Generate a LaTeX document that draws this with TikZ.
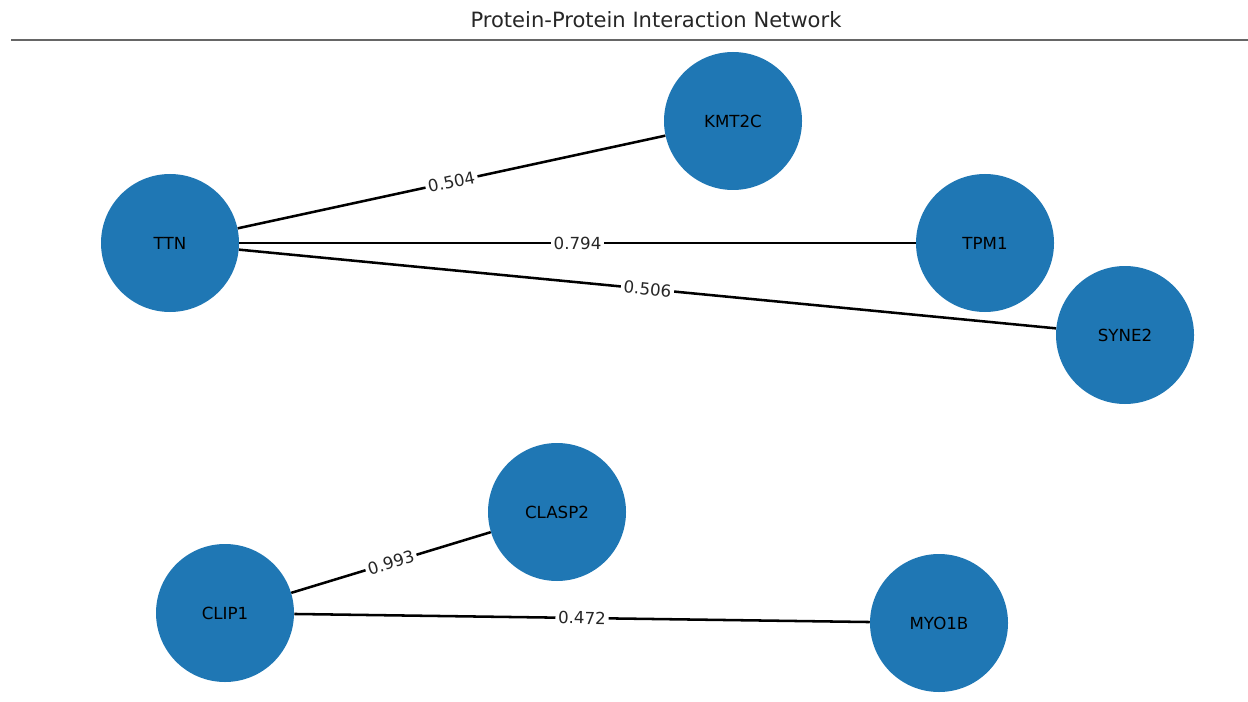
\documentclass[tikz,border=0pt]{standalone}
\usepackage{fontspec}
\setmainfont{DejaVu Sans}
\usepackage{xcolor}
\usepackage{tikz}
\definecolor{nodeblue}{HTML}{1F77B4}

\begin{document}
\begin{tikzpicture}[
    x=0.75pt, y=-0.75pt,
    protein/.style={circle, fill=nodeblue, minimum size=103.5pt, inner sep=0pt, font=\fontsize{12.5}{15}\selectfont},
    link/.style={line width=1.9pt, black},
    weight/.style={sloped, fill=white, inner sep=2pt, font=\fontsize{12.5}{15}\selectfont, text=black!85},
]
    \useasboundingbox (0,0) rectangle (1248,702);

    % Title
    \node[font=\fontsize{15.8}{19}\selectfont, text=black!85] (title) at (656,20) {Protein-Protein Interaction Network};
    \coordinate (ruleL) at (11,40);
    \coordinate (ruleR) at (1248,40);
    \draw[line width=1.3pt, black!60] (ruleL) -- (ruleR);

    % Proteins
    \node[protein] (ttn) at (170,243) {TTN};
    \node[protein] (kmt) at (733,121) {KMT2C};
    \node[protein] (tpm) at (985,243) {TPM1};
    \node[protein] (syne) at (1125,335) {SYNE2};
    \node[protein] (clasp) at (557,512) {CLASP2};
    \node[protein] (clip) at (225,613) {CLIP1};
    \node[protein] (myo) at (939,623) {MYO1B};

    % Interactions
    \draw[link] (ttn) -- node[weight] {0.504} (kmt);
    \draw[link] (ttn) -- node[weight] {0.794} (tpm);
    \draw[link] (ttn) -- node[weight] {0.506} (syne);
    \draw[link] (clip) -- node[weight] {0.993} (clasp);
    \draw[link] (clip) -- node[weight] {0.472} (myo);
\end{tikzpicture}
\end{document}
